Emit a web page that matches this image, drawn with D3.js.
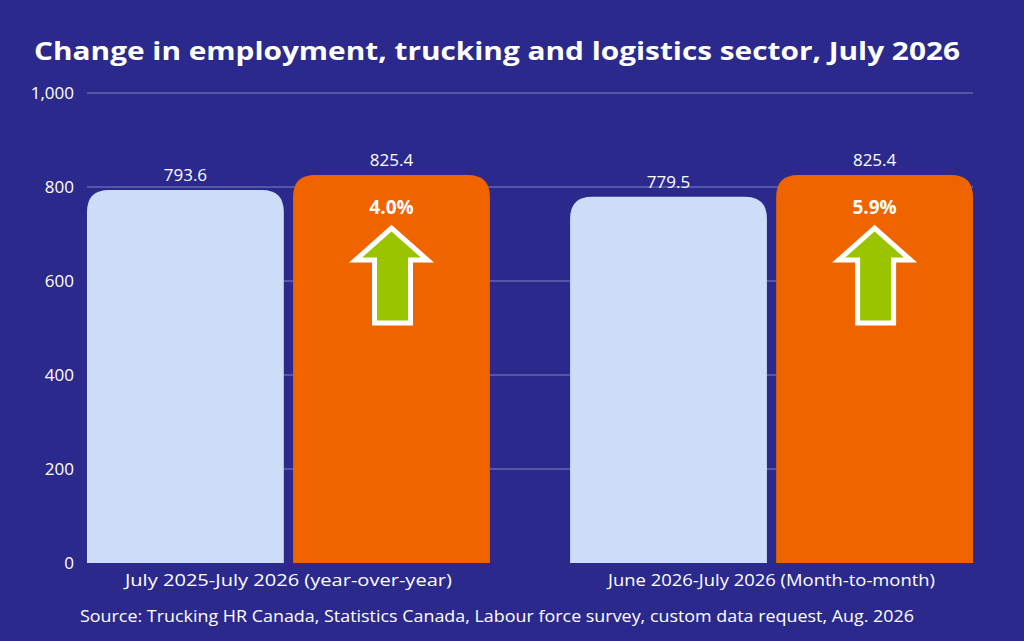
<!DOCTYPE html><html><head><meta charset="utf-8">
<script src="https://cdn.jsdelivr.net/npm/d3@7"></script>
<style>body{margin:0;background:#2b2a8c}svg{display:block}</style></head><body>
<svg id="c" width="1024" height="641"></svg>
<script>
const categories=["July 2025-July 2026 (year-over-year)","June 2026-July 2026 (Month-to-month)"];
const baseValues=[793.6,779.5];
const currentValues=[825.4,825.4];
const changeLabels=["4.0%","5.9%"];
const yTicks=[0,200,400,600,800,1000];
const svg=d3.select("#c");
const W=1024,H=641,font="'Open Sans', sans-serif";
svg.append("rect").attr("width",W).attr("height",H).attr("fill","#2b2a8c");
svg.append("text").attr("x",34).attr("y",60).attr("fill","#fff").attr("font-family",font).attr("font-weight",700).attr("font-size",25).attr("textLength",926).attr("lengthAdjust","spacingAndGlyphs").text("Change in employment, trucking and logistics sector, July 2026");
const y=d3.scaleLinear().domain([0,1000]).range([563,93]);
const x0=d3.scaleBand().domain(categories).range([87,973]).paddingInner(0.166).paddingOuter(0);
const x1=d3.scaleBand().domain(["b","c"]).range([0,x0.bandwidth()]).paddingInner(0.045);
const g=svg.append("g");
yTicks.forEach(t=>{
 if(t>0)g.append("line").attr("x1",87).attr("x2",973).attr("y1",y(t)).attr("y2",y(t)).attr("stroke","#6565b5").attr("stroke-width",1.5);
 g.append("text").attr("x",74).attr("y",y(t)+6).attr("text-anchor","end").attr("fill","#fff").attr("font-family",font).attr("font-size",17).text(d3.format(",")(t));
});
function rtop(x,yt,w,yb,r){return `M${x},${yb}V${yt+r}Q${x},${yt} ${x+r},${yt}H${x+w-r}Q${x+w},${yt} ${x+w},${yt+r}V${yb}Z`;}
categories.forEach((c,i)=>{
 const gx=x0(c);
 [["b",baseValues[i],"#cddcf7"],["c",currentValues[i],"#f06400"]].forEach(([k,v,col])=>{
  const bx=gx+x1(k),w=x1.bandwidth();
  g.append("path").attr("d",rtop(bx,y(v),w,y(0),22)).attr("fill",col);
  g.append("text").attr("x",bx+w/2).attr("y",y(v)-9).attr("text-anchor","middle").attr("fill","#fff").attr("font-family",font).attr("font-size",17).text(v.toFixed(1));
  if(k==="c"){
   const cx=bx+w/2;
   g.append("text").attr("x",cx).attr("y",y(v)+39).attr("text-anchor","middle").attr("fill","#fff").attr("font-family",font).attr("font-weight",700).attr("font-size",19).text(changeLabels[i]);
   const t=y(v)+53;
   const p=[[cx,t],[cx+36,t+32],[cx+19,t+32],[cx+19,t+95],[cx-17,t+95],[cx-17,t+32],[cx-36,t+32]];
   g.append("polygon").attr("points",p.map(q=>q.join(",")).join(" ")).attr("fill","#9ac400").attr("stroke","#fff").attr("stroke-width",5);
  }
 });
 g.append("text").attr("x",gx+x0.bandwidth()/2).attr("y",586).attr("text-anchor","middle").attr("fill","#fff").attr("font-family",font).attr("font-size",17).attr("textLength",327).attr("lengthAdjust","spacingAndGlyphs").text(c);
});
svg.append("text").attr("x",80).attr("y",622).attr("fill","#fff").attr("font-family",font).attr("font-size",15.5).attr("textLength",834).attr("lengthAdjust","spacingAndGlyphs").text("Source: Trucking HR Canada, Statistics Canada, Labour force survey, custom data request, Aug. 2026");
</script></body></html>
